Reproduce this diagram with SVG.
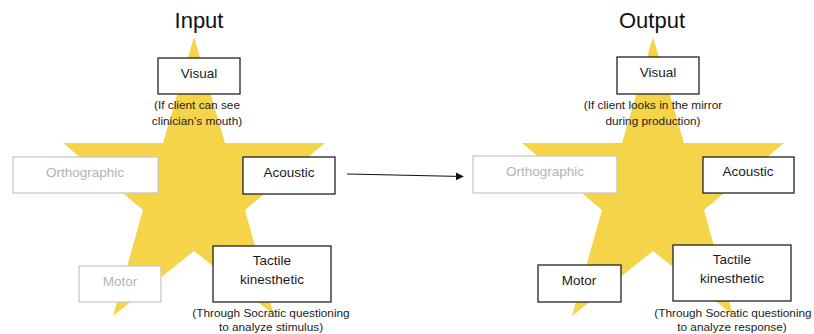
<svg xmlns="http://www.w3.org/2000/svg" width="814" height="334" viewBox="0 0 814 334">
  <style>
    .star { fill: #F6D44A; }
    .box { fill: #ffffff; stroke: #222222; stroke-width: 1.3; }
    .box.off { stroke: #c9c9c9; }
    .lbl { font-family: "Liberation Sans", Arial, sans-serif; font-size: 13.5px; fill: #1a1a1a; text-anchor: middle; dominant-baseline: central; }
    .lbl.off { fill: #b4b4b4; }
    .cap { font-family: "Liberation Sans", Arial, sans-serif; font-size: 11.8px; fill: #222222; text-anchor: middle; dominant-baseline: central; }
    .title { font-family: "Liberation Sans", Arial, sans-serif; font-size: 22px; fill: #111111; text-anchor: middle; dominant-baseline: central; }
    .conn { stroke: #111111; stroke-width: 1.2; fill: none; }
  </style>
  <defs>
    <polygon id="starShape" points="194,37 225,143 325,143 245,210 274,315 194,251 113,316 143,210 63,143 163,143"/>
    <marker id="arrowHead" viewBox="0 0 10 10" refX="9" refY="5" markerWidth="8" markerHeight="8" markerUnits="userSpaceOnUse" orient="auto">
      <path d="M0,0 L10,5 L0,10 z" fill="#111111"/>
    </marker>
  </defs>

  <!-- Input panel -->
  <g id="input">
    <text class="title" x="199" y="20">Input</text>
    <use href="#starShape" class="star"/>
    <g id="in-visual">
      <rect class="box" x="158" y="58" width="82" height="36"/>
      <text class="lbl" x="199" y="73">Visual</text>
      <text class="cap" x="197" y="105">(If client can see</text>
      <text class="cap" x="197" y="121">clinician’s mouth)</text>
    </g>
    <g id="in-orthographic">
      <rect class="box off" x="13" y="157" width="145" height="36"/>
      <text class="lbl off" x="85" y="172">Orthographic</text>
    </g>
    <g id="in-acoustic">
      <rect class="box" x="243" y="157" width="92" height="37"/>
      <text class="lbl" x="289" y="172">Acoustic</text>
    </g>
    <g id="in-motor">
      <rect class="box off" x="79" y="266" width="82" height="36"/>
      <text class="lbl off" x="120" y="281">Motor</text>
    </g>
    <g id="in-tactile">
      <rect class="box" x="213" y="246" width="118" height="56"/>
      <text class="lbl" x="272" y="260">Tactile</text>
      <text class="lbl" x="272" y="279">kinesthetic</text>
      <text class="cap" x="271" y="313">(Through Socratic questioning</text>
      <text class="cap" x="271" y="327">to analyze stimulus)</text>
    </g>
  </g>

  <!-- Output panel -->
  <g id="output">
    <text class="title" x="652" y="20">Output</text>
    <use href="#starShape" class="star" transform="translate(459,0)"/>
    <g id="out-visual">
      <rect class="box" x="617" y="57" width="82" height="37"/>
      <text class="lbl" x="658" y="72">Visual</text>
      <text class="cap" x="653" y="105">(If client looks in the mirror</text>
      <text class="cap" x="653" y="121">during production)</text>
    </g>
    <g id="out-orthographic">
      <rect class="box off" x="473" y="156" width="144" height="37"/>
      <text class="lbl off" x="545" y="171">Orthographic</text>
    </g>
    <g id="out-acoustic">
      <rect class="box" x="703" y="157" width="91" height="36"/>
      <text class="lbl" x="748" y="171">Acoustic</text>
    </g>
    <g id="out-motor">
      <rect class="box" x="538" y="265" width="83" height="37"/>
      <text class="lbl" x="579" y="280">Motor</text>
    </g>
    <g id="out-tactile">
      <rect class="box" x="673" y="245" width="118" height="56"/>
      <text class="lbl" x="732" y="259">Tactile</text>
      <text class="lbl" x="732" y="278">kinesthetic</text>
      <text class="cap" x="733" y="313">(Through Socratic questioning</text>
      <text class="cap" x="732" y="327">to analyze response)</text>
    </g>
  </g>

  <!-- Connector -->
  <g id="connectors">
    <line class="conn" x1="347" y1="174" x2="463" y2="176.5" marker-end="url(#arrowHead)"/>
  </g>
</svg>
